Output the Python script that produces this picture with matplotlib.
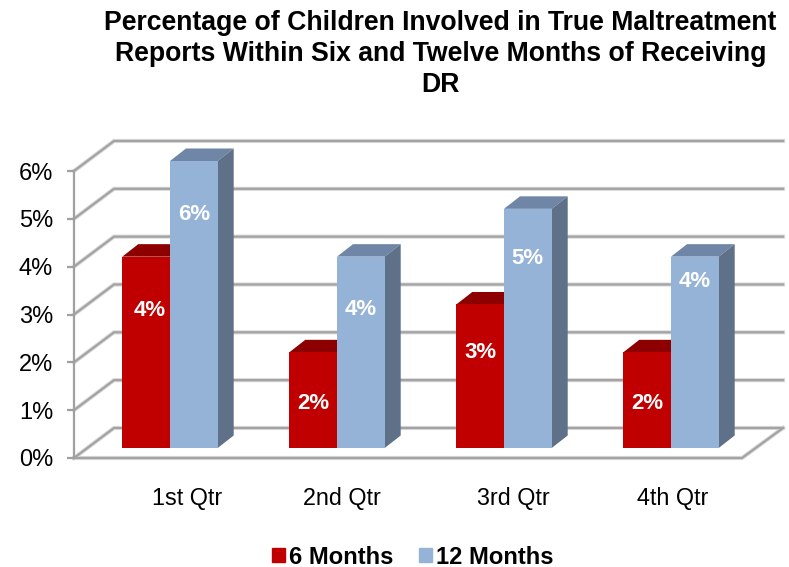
import matplotlib
matplotlib.use('Agg')
import matplotlib.pyplot as plt
from matplotlib.patches import Polygon, Patch

plt.rcParams['font.family'] = ['Liberation Sans', 'DejaVu Sans']

quarters = ['1st Qtr', '2nd Qtr', '3rd Qtr', '4th Qtr']
six_months = [4, 2, 3, 2]
twelve_months = [6, 4, 5, 4]
pct_ticks = [0, 1, 2, 3, 4, 5, 6]
pct_labels = ['0%', '1%', '2%', '3%', '4%', '5%', '6%']
title = ('Percentage of Children Involved in True Maltreatment\n'
         'Reports Within Six and Twelve Months of Receiving\nDR')

W, H = 789, 567
GROUP_PX = 167.0      # one category step
UNIT_PX = 47.8        # one percent

fig = plt.figure(figsize=(W / 100, H / 100), dpi=100)
# axes spans the front plane of the fake 3d box
left, right, bottom, top = 74, 783, 458, 171
ax = fig.add_axes([left / W, 1 - bottom / H, (right - left) / W, (bottom - top) / H])
x0 = (left - 170) / GROUP_PX
ax.set_xlim(x0, x0 + (right - left) / GROUP_PX)
ax.set_ylim(0, 6)
ax.patch.set_visible(False)
for s in ['top', 'right', 'bottom']:
    ax.spines[s].set_visible(False)
ax.spines['left'].set_color('#A0A0A0')
ax.spines['left'].set_linewidth(1.6)


def dx(px):
    return px / GROUP_PX


def dy(px):
    return px / UNIT_PX


# walls and floor
GRID = '#A3A3A3'
SHADOW = '#DADADA'
wall_x = x0 + dx(40)
wall_end = x0 + dx(right - left)
for v in pct_ticks:
    ax.plot([x0, wall_x, wall_end], [v, v + dy(30), v + dy(30)], color=SHADOW, lw=3.0,
            clip_on=False, zorder=1, solid_joinstyle='miter')
    ax.plot([x0, wall_x, wall_end], [v, v + dy(30), v + dy(30)], color=GRID, lw=1.6,
            clip_on=False, zorder=1.1, solid_joinstyle='miter')
ax.plot([x0, wall_end - dx(41), wall_end], [0, 0, dy(30)], color=SHADOW, lw=3.0, clip_on=False, zorder=1)
ax.plot([x0, wall_end - dx(41), wall_end], [0, 0, dy(30)], color=GRID, lw=1.6, clip_on=False, zorder=1.1)

# bars
bar_w = 47.7 / GROUP_PX
base = dy(10)
depth_x, depth_y = dx(16), dy(12.5)


def draw_bars(positions, values, front, roof, wall, z):
    ax.bar(positions, values, width=bar_w, bottom=base, color=front, zorder=z + 0.2, clip_on=False)
    for p, v in zip(positions, values):
        l, r, t = p - bar_w / 2, p + bar_w / 2, base + v
        ax.add_patch(Polygon([(l, t), (l + depth_x, t + depth_y), (r + depth_x, t + depth_y), (r, t)],
                             fc=roof, ec='none', zorder=z, clip_on=False))
        ax.add_patch(Polygon([(r, base), (r + depth_x, base + depth_y), (r + depth_x, t + depth_y), (r, t)],
                             fc=wall, ec='none', zorder=z, clip_on=False))


groups = list(range(len(quarters)))
red_pos = [g - bar_w / 2 for g in groups]
blue_pos = [g + bar_w / 2 for g in groups]
draw_bars(red_pos, six_months, '#C00000', '#8C0000', '#8C0000', 3)
draw_bars(blue_pos, twelve_months, '#95B3D7', '#6F86A6', '#5F7089', 4)

# data labels sit a fixed distance under the bar top, except the last blue one
red_drop = [54, 51, 48, 51]
blue_drop = [53, 53, 50, 25]
red_nudge = [4, 0, 0, 0]
for p, v, d, n in zip(red_pos, six_months, red_drop, red_nudge):
    ax.text(p + dx(n), base + v - dy(d), f'{v}%', color='white', fontsize=16, fontweight='bold',
            ha='center', va='center', zorder=6)
for p, v, d in zip(blue_pos, twelve_months, blue_drop):
    ax.text(p, base + v - dy(d), f'{v}%', color='white', fontsize=16, fontweight='bold',
            ha='center', va='center', zorder=6)

# axis text
ax.set_yticks(pct_ticks)
ax.set_yticklabels(pct_labels, fontsize=17)
ax.tick_params(axis='y', length=5, width=1.6, color='#A0A0A0', pad=10)
# the labels are not evenly spaced in the original
label_shift = [17, 5, 9, 2]
ax.set_xticks([g + dx(s) for g, s in zip(groups, label_shift)])
ax.set_xticklabels(quarters, fontsize=16.8)
ax.tick_params(axis='x', length=0, pad=21)

fig.text(440.5 / W, 1 - 10 / H, title, fontsize=19.2, fontweight='bold', ha='center', va='top',
         linespacing=1.26)

handles = [Patch(color='#C00000', label='6 Months'), Patch(color='#95B3D7', label='12 Months')]
leg = fig.legend(handles=handles, loc='center', bbox_to_anchor=(412.5 / W, 1 - 557 / H), ncol=2, frameon=False,
                 handlelength=0.55, handleheight=0.55, handletextpad=0.17, columnspacing=1.06, borderpad=0,
                 prop={'size': 17.1, 'weight': 'bold'})

fig.savefig('out.png', dpi=100)
